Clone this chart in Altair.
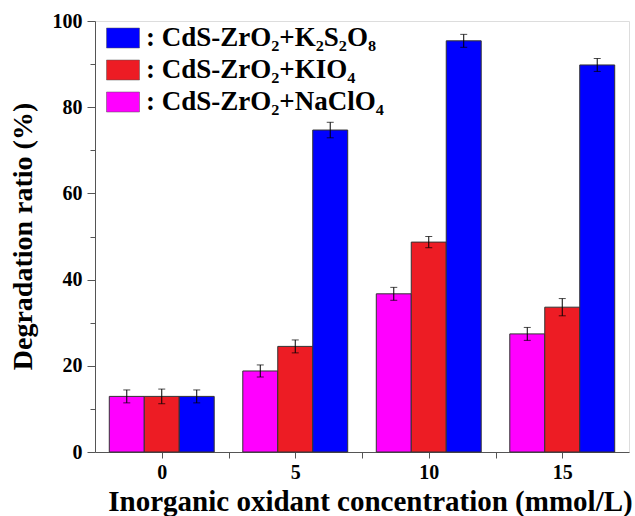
import altair as alt
import pandas as pd

concs = [0, 5, 10, 15]
series = ["CdS-ZrO₂+NaClO₄", "CdS-ZrO₂+KIO₄", "CdS-ZrO₂+K₂S₂O₈"]
naclo4 = [12.9, 18.8, 36.7, 27.4]
naclo4_err = [1.5, 1.4, 1.5, 1.5]
kio4 = [12.9, 24.5, 48.7, 33.6]
kio4_err = [1.7, 1.5, 1.3, 2.0]
k2s2o8 = [12.9, 74.7, 95.4, 89.8]
k2s2o8_err = [1.5, 1.8, 1.5, 1.5]
colors = ["#FF00FF", "#ED1C24", "#0000FF"]

rows = []
for idx, (vals, errs) in enumerate([(naclo4, naclo4_err), (kio4, kio4_err), (k2s2o8, k2s2o8_err)]):
    for c, v, e in zip(concs, vals, errs):
        rows.append({"conc": c, "series": series[idx], "idx": idx, "value": v, "err": e})
df = pd.DataFrame(rows)

FONT = "Liberation Serif"
BW = 1.31

base = alt.Chart(df).transform_calculate(
    xs="datum.conc - 1.965 + datum.idx * %f" % BW,
    xe="datum.conc - 1.965 + (datum.idx + 1) * %f" % BW,
    xc="datum.conc - 1.965 + (datum.idx + 0.5) * %f" % BW,
    lo="datum.value - datum.err",
    hi="datum.value + datum.err",
)

xscale = alt.Scale(domain=[-2.5, 17.5], nice=False, zero=False)
yscale = alt.Scale(domain=[0, 100], nice=False)

xaxis = alt.Axis(
    values=[0, 2.5, 5, 7.5, 10, 12.5, 15],
    labelExpr="datum.value % 5 === 0 ? datum.label : ''",
    title="Inorganic oxidant concentration (mmol/L)",
    titleFont=FONT, titleFontSize=29, titleFontWeight="bold", titleColor="black",
    titleX=275, titleY=58, titleBaseline="alphabetic", titleAlign="center", titleAnchor="middle",
    labelFont=FONT, labelFontSize=20, labelFontWeight="bold", labelColor="black",
    labelPadding=4, tickSize=6, tickColor="#555", domainColor="#555", grid=False,
    labelFlush=False, labelOverlap=False,
)
yaxis = alt.Axis(
    values=[0, 10, 20, 30, 40, 50, 60, 70, 80, 90, 100],
    labelExpr="datum.value % 20 === 0 ? datum.label : ''",
    title="Degradation ratio (%)",
    titleFont=FONT, titleFontSize=28, titleFontWeight="bold", titleColor="black",
    titleX=-64, titleY=215, titleBaseline="alphabetic", titleAlign="center", titleAnchor="middle",
    labelFont=FONT, labelFontSize=20, labelFontWeight="bold", labelColor="black",
    labelPadding=5,
    tickSize={"condition": {"test": "datum.value % 20 === 0", "value": 8}, "value": 5},
    tickColor="#555", domainColor="#555", grid=False, labelOverlap=False, labelFlush=False,
)

legend = alt.Legend(
    orient="none", legendX=11, legendY=0, title=None,
    symbolType="M-1,-0.606H1V0.606H-1Z", symbolSize=1089,
    symbolStrokeColor="#555", symbolStrokeWidth=0.5, symbolOpacity=1,
    labelFont=FONT, labelFontSize=27, labelFontWeight="bold", labelColor="black",
    labelOffset=6, rowPadding=2, labelExpr="': ' + datum.label", padding=0, labelLimit=0,
)

bars = base.mark_bar(stroke="#333", strokeWidth=1).encode(
    x=alt.X("xs:Q", scale=xscale, axis=xaxis),
    x2="xe:Q",
    y=alt.Y("value:Q", scale=yscale, axis=yaxis),
    y2=alt.datum(0),
    color=alt.Color("series:N", scale=alt.Scale(domain=series[::-1], range=colors[::-1]), legend=legend),
)

err_rule = base.mark_rule(color="black", strokeWidth=1).encode(
    x="xc:Q", y="lo:Q", y2="hi:Q"
)
cap_lo = base.mark_tick(color="black", thickness=1, size=7, orient="horizontal").encode(
    x="xc:Q", y="lo:Q"
)
cap_hi = base.mark_tick(color="black", thickness=1, size=7, orient="horizontal").encode(
    x="xc:Q", y="hi:Q"
)

chart = alt.layer(bars, err_rule, cap_lo, cap_hi).properties(
    width=534, height=431,
    autosize=alt.AutoSizeParams(type="none"),
    padding={"left": 95, "top": 21, "right": 6, "bottom": 64},
).configure_view(stroke="#666", strokeWidth=1).configure(background="white")

chart.save("out.html", embed_options={"renderer": "svg", "actions": False})
